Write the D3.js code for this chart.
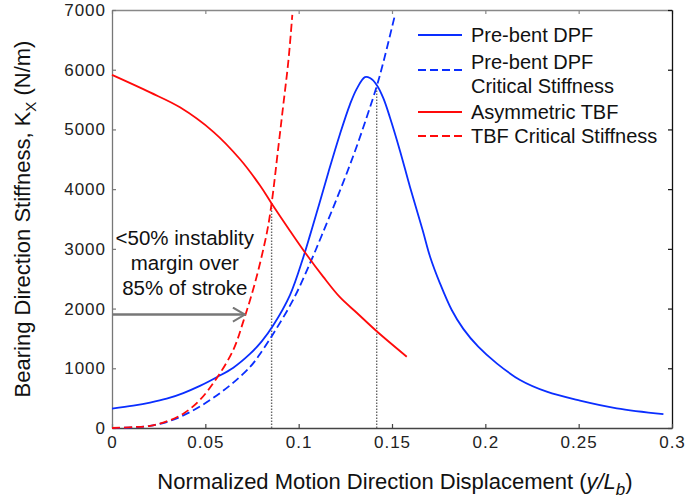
<!DOCTYPE html>
<html>
<head>
<meta charset="utf-8">
<script src="https://cdn.jsdelivr.net/npm/d3@7"></script>
<style>
  body { margin: 0; background: #fff; }
  svg { font-family: "Liberation Sans", Arial, sans-serif; }
</style>
</head>
<body>
<div class="chart"></div>
<script>
// chart size
var svgWidth = 699;
var svgHeight = 499;
var margin = { top: 10, right: 27, bottom: 71, left: 112 };
var width = svgWidth - margin.left - margin.right;
var height = svgHeight - margin.top - margin.bottom;

// data (x = y/Lb, y = N/m)
var dpfX = [0, 0.0114, 0.0204, 0.0293, 0.0382, 0.0471, 0.0561, 0.065, 0.0739, 0.0802, 0.0864, 0.0954, 0.1025, 0.1061, 0.1096, 0.1123, 0.1159, 0.1221, 0.1275, 0.1311, 0.1355, 0.1382, 0.1418, 0.1454, 0.1489, 0.1543, 0.1596, 0.1664, 0.1704, 0.1757, 0.182, 0.1882, 0.1962, 0.2061, 0.2186, 0.2329, 0.2507, 0.2704, 0.2954];
var dpfY = [325, 375, 425, 490, 585, 705, 850, 1010, 1240, 1450, 1720, 2230, 2860, 3230, 3600, 3890, 4280, 4920, 5420, 5680, 5875, 5860, 5745, 5520, 5200, 4640, 4040, 3316, 2869, 2423, 1976, 1660, 1362, 1083, 804, 608, 459, 330, 234];

var dpfCritX = [0, 0.0114, 0.0204, 0.0293, 0.0382, 0.0471, 0.0561, 0.065, 0.0739, 0.0784, 0.0864, 0.0971, 0.1061, 0.1123, 0.1204, 0.1293, 0.1364, 0.1418, 0.1454, 0.1516];
var dpfCritY = [0, 10, 35, 100, 210, 360, 545, 760, 1020, 1200, 1580, 2150, 2760, 3220, 3840, 4560, 5200, 5720, 6130, 6918];

var tbfX = [0, 0.0204, 0.0364, 0.0543, 0.0686, 0.0793, 0.0855, 0.0954, 0.1043, 0.1132, 0.1221, 0.1311, 0.1418, 0.1579];
var tbfY = [5913, 5620, 5370, 4960, 4500, 4060, 3760, 3300, 2900, 2530, 2190, 1930, 1620, 1194];

var tbfCritX = [0, 0.0114, 0.0204, 0.0293, 0.0382, 0.0471, 0.0561, 0.065, 0.0704, 0.0766, 0.0829, 0.0855, 0.0891, 0.0918, 0.0945, 0.0966];
var tbfCritY = [0, 15, 35, 110, 240, 470, 835, 1310, 1790, 2430, 3260, 3760, 4700, 5420, 6150, 6918];

// dotted markers where stiffness meets critical stiffness
var markX = [0.0855, 0.1418];
var markY = [3760, 5745];

var xTicks = [0, 0.05, 0.1, 0.15, 0.2, 0.25, 0.3];
var xTickLabels = ["0", "0.05", "0.1", "0.15", "0.2", "0.25", "0.3"];
var yTicks = [0, 1000, 2000, 3000, 4000, 5000, 6000, 7000];

var seriesNames = ["Pre-bent DPF", "Pre-bent DPF\nCritical Stiffness", "Asymmetric TBF", "TBF Critical Stiffness"];
var noteLines = ["<50% instablity", "margin over", "85% of stroke"];
var arrowX = [0, 0.0712];
var arrowY = 1900;

var blue = "#0a2eff";
var red = "#ff0a0a";

var svg = d3.select(".chart")
  .append("svg")
  .attr("width", svgWidth)
  .attr("height", svgHeight)
  .append("g")
  .attr("transform", `translate(${margin.left}, ${margin.top})`);

var xScale = d3.scaleLinear().domain([0, 0.3]).range([0, width]);
var yScale = d3.scaleLinear().domain([0, 7000]).range([height, 0]);

// axes, ticks point inward like the original
var bottomAxis = d3.axisBottom(xScale).tickValues(xTicks)
  .tickFormat(function(d, i) { return xTickLabels[i]; })
  .tickSizeInner(-4).tickSizeOuter(0).tickPadding(8);
var leftAxis = d3.axisLeft(yScale).tickValues(yTicks)
  .tickFormat(d3.format("d")).tickSizeInner(-4).tickSizeOuter(0).tickPadding(6);
var topAxis = d3.axisTop(xScale).tickValues(xTicks).tickFormat("").tickSizeInner(-4).tickSizeOuter(0);
var rightAxis = d3.axisRight(yScale).tickValues(yTicks).tickFormat("").tickSizeInner(-4).tickSizeOuter(0);

function styleAxis(g, col) {
  g.select(".domain").attr("stroke", col).attr("stroke-width", 1.3);
  g.selectAll(".tick line").attr("stroke", col).attr("stroke-width", 1.2);
  g.selectAll(".tick text").attr("fill", "#222").style("font-size", "17px").style("letter-spacing", "1px");
}

svg.append("g").call(topAxis).call(styleAxis, "#888");
svg.append("g").attr("transform", `translate(${width},0)`).call(rightAxis).call(styleAxis, "#111");
svg.append("g").attr("transform", `translate(0,${height})`).call(bottomAxis).call(styleAxis, "#444");
svg.append("g").call(leftAxis).call(styleAxis, "#777");

// dotted verticals
markX.forEach(function(mx, i) {
  svg.append("line")
    .attr("x1", xScale(mx)).attr("x2", xScale(mx))
    .attr("y1", yScale(0)).attr("y2", yScale(markY[i]))
    .attr("stroke", "#666").attr("stroke-width", 1.4)
    .attr("stroke-dasharray", "1.5,1.5");
});

var line = d3.line()
  .x(function(d) { return xScale(d[0]); })
  .y(function(d) { return yScale(d[1]); })
  .curve(d3.curveCatmullRom.alpha(0.5));

function zip(xs, ys) { return xs.map(function(x, i) { return [x, ys[i]]; }); }

var series = [
  { data: zip(dpfX, dpfY), color: blue, dash: null },
  { data: zip(dpfCritX, dpfCritY), color: blue, dash: "8,4" },
  { data: zip(tbfX, tbfY), color: red, dash: null },
  { data: zip(tbfCritX, tbfCritY), color: red, dash: "8,4" }
];

series.forEach(function(s) {
  svg.append("path")
    .datum(s.data)
    .attr("d", line)
    .attr("fill", "none")
    .attr("stroke", s.color)
    .attr("stroke-width", 1.8)
    .attr("stroke-dasharray", s.dash);
});

// arrow + note
svg.append("defs").append("marker")
  .attr("id", "head")
  .attr("viewBox", "0 0 14 16")
  .attr("refX", 13).attr("refY", 8)
  .attr("markerWidth", 14).attr("markerHeight", 16)
  .attr("markerUnits", "userSpaceOnUse")
  .attr("orient", "auto")
  .append("path")
  .attr("d", "M1,1 L13,8 L1,15")
  .attr("fill", "none").attr("stroke", "#777").attr("stroke-width", 2);

svg.append("line")
  .attr("x1", xScale(arrowX[0])).attr("x2", xScale(arrowX[1]))
  .attr("y1", yScale(arrowY)).attr("y2", yScale(arrowY))
  .attr("stroke", "#777").attr("stroke-width", 2.5)
  .attr("marker-end", "url(#head)");

var note = svg.append("text")
  .attr("x", xScale(0.039)).attr("y", 235)
  .attr("text-anchor", "middle")
  .attr("fill", "#111")
  .style("font-size", "20.5px");
note.selectAll("tspan").data(noteLines).enter().append("tspan")
  .attr("x", xScale(0.039))
  .attr("dy", function(d, i) { return i === 0 ? 0 : 25; })
  .text(function(d) { return d; });

// legend
var legendRows = [25, 52, 102, 126];
var legendLineY = [25, 60, 102, 126];
var legend = svg.append("g").attr("transform", "translate(306,0)");
series.forEach(function(s, i) {
  legend.append("line")
    .attr("x1", 0).attr("x2", 44)
    .attr("y1", legendLineY[i]).attr("y2", legendLineY[i])
    .attr("stroke", s.color).attr("stroke-width", 1.8)
    .attr("stroke-dasharray", s.dash);
  var t = legend.append("text")
    .attr("y", legendRows[i])
    .attr("fill", "#111")
    .style("font-size", "20px");
  seriesNames[i].split("\n").forEach(function(part, j) {
    t.append("tspan").attr("x", 53).attr("dy", j === 0 ? "0.35em" : 24).text(part);
  });
});

// axis titles
var xt = svg.append("text")
  .attr("x", width / 2 + 3).attr("y", height + 61)
  .attr("text-anchor", "middle")
  .attr("fill", "#111")
  .style("font-size", "22px");
xt.append("tspan").text("Normalized Motion Direction Displacement (");
xt.append("tspan").style("font-style", "italic").text("y/L");
xt.append("tspan").style("font-style", "italic").style("font-size", "17px").attr("dy", 6).text("b");
xt.append("tspan").attr("dy", -6).text(")");

var yt = svg.append("text")
  .attr("transform", `translate(${-82},${height / 2}) rotate(-90)`)
  .attr("text-anchor", "middle")
  .attr("fill", "#111")
  .style("font-size", "22px");
yt.append("tspan").text("Bearing Direction Stiffness, K");
yt.append("tspan").style("font-size", "15px").attr("dy", 6).text("X");
yt.append("tspan").attr("dy", -6).text(" (N/m)");
</script>
</body>
</html>
